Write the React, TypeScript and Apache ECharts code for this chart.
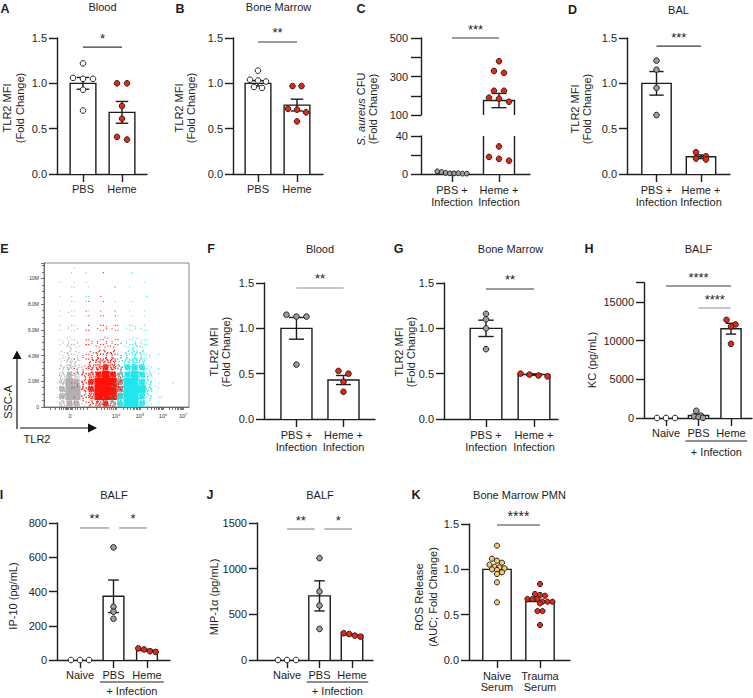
import React, { useEffect, useRef } from 'react';
import * as echarts from 'echarts';

const FONT = '"Liberation Sans", Arial, Helvetica, sans-serif';
const INK = '#1d1d1d';
const SIG_DARK = '#3a3a3a';
const SIG_GREY = '#8e8e8e';
const WHITE = '#ffffff';
const GREY = '#9e9e9e';
const RED = '#f0240e';
const YELLOW = '#f6cb72';

// ================= DATA =================
// A  Blood
const aCats = ['PBS', 'Heme'];
const aMean = [1.0, 0.68];
const aSem = [0.065, 0.12];
const aPBS = [1.22, 1.06, 1.05, 1.05, 0.93, 0.7];
const aHeme = [1.0, 1.0, 0.75, 0.61, 0.41, 0.38];

// B  Bone Marrow
const bCats = ['PBS', 'Heme'];
const bMean = [1.0, 0.76];
const bSem = [0.03, 0.065];
const bPBS = [1.14, 1.04, 1.03, 1.02, 0.96, 0.95];
const bHeme = [0.97, 0.97, 0.72, 0.71, 0.68, 0.58];

// C  S. aureus CFU (broken axis)
const cCats = ['PBS +\nInfection', 'Heme +\nInfection'];
const cMean = [1.1, 175];
const cSem = [0.35, 37];
const cPBS = [0.4, 2.8, 2.1, 1.1, 0.7, 0.4, 0.7, 0.7];
const cHeme = [379, 329, 319, 226, 226, 190, 185, 169, 29, 18, 16, 14];
const cUpperLabels = [100, 300, 500];
const cLowerLabels = [0, 40];

// D  BAL
const dCats = ['PBS +\nInfection', 'Heme +\nInfection'];
const dMean = [1.0, 0.19];
const dSem = [0.13, 0.02];
const dPBS = [1.25, 1.15, 0.95, 0.65];
const dHeme = [0.24, 0.195, 0.17, 0.16];

// E  flow cytometry density (rows top→bottom, 20 TLR2 bins x 20 SSC bins, level 0-9)
const eBinX = 5;
const eBinY = 0.56;
const eGrey = [
  '00001000000000000000',
  '00010100000000000000',
  '00101000000000000000',
  '00011010000000000000',
  '00110100000000000000',
  '00011100000000000000',
  '00121010000000000000',
  '00111100000000000000',
  '00121010000000000000',
  '00122110000000000000',
  '00232100000000000000',
  '00243100000000000000',
  '00343100000000000000',
  '00354100000000000000',
  '00465200000000000000',
  '00576200000000000000',
  '01698300000000000000',
  '01799410000000000000',
  '01799410000000000000',
  '01687300000000000000',
];
const eRed = [
  '00000000000000000000',
  '00000000100000000000',
  '00000000000000000000',
  '00000000010000000000',
  '00000001000000000000',
  '00000010100000000000',
  '00000101010000000000',
  '00000011110000000000',
  '00000011211000000000',
  '00000112221000000000',
  '00000122321000000000',
  '00000123332000000000',
  '00000234442000000000',
  '00001245553000000000',
  '00001356764000000000',
  '00002468986100000000',
  '00012479997100000000',
  '00012479998200000000',
  '00001369997200000000',
  '00001246764200000000',
];
const eCyan = [
  '00000000000000000000',
  '00000000000010000000',
  '00000100000001000000',
  '00000000000100000000',
  '00000010000000100000',
  '00000000010010000000',
  '00000000000101000000',
  '00000000001011000000',
  '00000000000121000000',
  '00000000000222100000',
  '00000000001232100000',
  '00000000001343100000',
  '00000000002454210000',
  '00000000003565200000',
  '00000000004787310000',
  '00000000005898410000',
  '00000000016998410100',
  '00000000026999520000',
  '00000000137998411000',
  '00000001247997310000',
];
const eXLabelPos = [17.9, 49.7, 66.2, 82.1, 95.9];
const eXLabels = ['0', '10⁴', '10⁵', '10⁶', '10⁷'];
const eXLinearTicks = [4.1, 7.6, 10.3, 12.2, 13.3, 14.5, 15.6, 16.3, 17.0, 17.9, 18.6, 19.8, 21.4, 23.2, 25.2, 27.3];
const eXDecades = [29.9, 49.7, 66.2, 82.1, 95.9];
const eYLabels = [0, 2, 4, 6, 8, 10];

// F  Blood (infection)
const fCats = ['PBS +\nInfection', 'Heme +\nInfection'];
const fMean = [1.0, 0.43];
const fSem = [0.12, 0.05];
const fPBS = [1.15, 1.13, 1.13, 0.6];
const fHeme = [0.53, 0.5, 0.41, 0.3];

// G  Bone Marrow (infection)
const gCats = ['PBS +\nInfection', 'Heme +\nInfection'];
const gMean = [1.0, 0.49];
const gSem = [0.09, 0.007];
const gPBS = [1.16, 1.1, 1.0, 0.77];
const gHeme = [0.5, 0.49, 0.48, 0.47];

// H  BALF KC
const hCats = ['Naive', 'PBS', 'Heme'];
const hMean = [0, 320, 11550];
const hSem = [0, 160, 700];
const hNaive = [0, 0, 0];
const hPBS = [930, 320, 210, 130, 20];
const hHeme = [12700, 12100, 11850, 9600];
const hLabels = [0, 5000, 10000, 15000];

// I  BALF IP-10
const iCats = ['Naive', 'PBS', 'Heme'];
const iMean = [0, 372, 57];
const iSem = [0, 95, 5];
const iNaive = [0, 0, 0];
const iPBS = [658, 311, 282, 241];
const iHeme = [68, 62, 51, 47];

// J  BALF MIP-1a
const jCats = ['Naive', 'PBS', 'Heme'];
const jMean = [0, 702, 275];
const jSem = [0, 165, 9];
const jNaive = [0, 0, 0];
const jPBS = [1116, 750, 596, 340];
const jHeme = [293, 285, 267, 256];

// K  Bone Marrow PMN
const kCats = ['Naive\nSerum', 'Trauma\nSerum'];
const kMean = [1.0, 0.645];
const kSem = [0, 0];
const kNaive = [1.261, 1.117, 1.095, 1.073, 1.051, 1.029, 1.022, 1.011, 1.0, 0.993, 0.967, 0.949, 0.857, 0.636];
const kTrauma = [0.838, 0.728, 0.717, 0.709, 0.673, 0.673, 0.673, 0.643, 0.643, 0.643, 0.625, 0.54, 0.54, 0.386];

// ================= HELPERS =================
function dodge(values: number[], ppu: number, spacing: number, thresh: number): number[] {
  const order = values.map((_, i) => i).sort((a, b) => values[b] - values[a]);
  const off = values.map(() => 0);
  let row: number[] = [];
  const flush = () => {
    row.forEach((k, j) => (off[k] = (j - (row.length - 1) / 2) * spacing));
    row = [];
  };
  for (const k of order) {
    if (row.length && (values[row[0]] - values[k]) * ppu > thresh) flush();
    row.push(k);
  }
  flush();
  return off;
}

const fmt1 = (v: number) => v.toFixed(1);
const fmt0 = (v: number) => String(Math.round(v));

// fixed speckle pattern used to texture density cells (order = fill order)
const SPECKLE = [
  [0.12, 0.31], [0.63, 0.08], [0.38, 0.72], [0.86, 0.55], [0.22, 0.93], [0.71, 0.39],
  [0.05, 0.62], [0.49, 0.18], [0.93, 0.87], [0.31, 0.47], [0.57, 0.95], [0.8, 0.21],
  [0.15, 0.05], [0.44, 0.36], [0.67, 0.66], [0.96, 0.12], [0.27, 0.16], [0.54, 0.52],
  [0.08, 0.84], [0.76, 0.8], [0.35, 0.02], [0.9, 0.34], [0.6, 0.27], [0.19, 0.6],
];
const DOTS = [0, 1, 2, 4, 6, 9, 12, 15, 19, 24];

function buildOption() {
  const grid: any[] = [];
  const xAxis: any[] = [];
  const yAxis: any[] = [];
  const series: any[] = [];
  const axLine = { color: INK, width: 1.4 };

  function addPanel(p: any) {
    const gi = grid.length;
    const height = p.bottom - p.top;
    grid.push({ left: p.left, top: p.top, width: p.right - p.left, height, containLabel: false, outerBoundsMode: 'none' });
    const idx = p.cats.map((_: any, i: number) => i);
    xAxis.push({
      gridIndex: gi, type: 'value', min: p.xMin, max: p.xMax, show: p.showX !== false,
      axisLine: { show: true, onZero: false, lineStyle: axLine },
      axisTick: { show: true, customValues: idx, length: 8, lineStyle: axLine },
      axisLabel: {
        show: true, customValues: idx, formatter: (v: number) => p.cats[Math.round(v)] ?? '',
        margin: p.xMargin ?? 9, fontSize: 11, lineHeight: p.lh ?? 12, color: INK, fontFamily: FONT,
      },
      splitLine: { show: false },
    });
    yAxis.push({
      gridIndex: gi, type: 'value', min: p.yMin, max: p.yMax, interval: p.yInterval,
      axisLine: { show: true, onZero: false, lineStyle: axLine },
      axisTick: { show: true, length: p.tickLen ?? 8, lineStyle: axLine },
      axisLabel: { customValues: p.yLabels, formatter: p.fmt, margin: p.yMargin ?? 10, fontSize: 11, color: INK, fontFamily: FONT },
      splitLine: { show: false },
    });
    const ppu = height / (p.yMax - p.yMin);
    const hw = p.hw ?? 0.33;
    const capHw = 0.16;
    const base = { type: 'custom', xAxisIndex: gi, yAxisIndex: gi, silent: true, animation: false };

    series.push({
      ...base, z: 2,
      data: p.means.map((m: number, i: number) => [i, m]),
      renderItem: (params: any, api: any) => {
        const cs = params.coordSys;
        const x = api.value(0), v = api.value(1);
        const yBot = cs.y + cs.height;
        let yTop = api.coord([x, v])[1];
        if (!(yTop < yBot - 0.5)) return null;
        const clamped = yTop < cs.y;
        if (clamped) yTop = cs.y;
        const xl = api.coord([x - hw, v])[0];
        const xr = api.coord([x + hw, v])[0];
        const st = { stroke: INK, lineWidth: 1.4, fill: 'none' };
        const ch: any[] = [{ type: 'rect', shape: { x: xl, y: yTop, width: xr - xl, height: yBot - yTop }, style: { fill: WHITE } }];
        if (clamped) {
          ch.push({ type: 'line', shape: { x1: xl, y1: yTop, x2: xl, y2: yBot }, style: st });
          ch.push({ type: 'line', shape: { x1: xr, y1: yTop, x2: xr, y2: yBot }, style: st });
        } else {
          ch.push({ type: 'polyline', shape: { points: [[xl, yBot], [xl, yTop], [xr, yTop], [xr, yBot]] }, style: st });
        }
        return { type: 'group', children: ch };
      },
    });

    series.push({
      ...base, z: 3,
      data: p.means.map((m: number, i: number) => [i, m, p.sems[i]]),
      renderItem: (params: any, api: any) => {
        const cs = params.coordSys;
        const x = api.value(0), m = api.value(1), s = api.value(2);
        if (!s) return null;
        const a = api.coord([x, m + s]);
        const b = api.coord([x, m - s]);
        if (a[1] < cs.y - 1 || b[1] > cs.y + cs.height + 1) return null;
        const l = api.coord([x - capHw, m])[0];
        const r = api.coord([x + capHw, m])[0];
        const st = { stroke: INK, lineWidth: 1.4 };
        return {
          type: 'group',
          children: [
            { type: 'line', shape: { x1: a[0], y1: a[1], x2: b[0], y2: b[1] }, style: st },
            { type: 'line', shape: { x1: l, y1: a[1], x2: r, y2: a[1] }, style: st },
            { type: 'line', shape: { x1: l, y1: b[1], x2: r, y2: b[1] }, style: st },
          ],
        };
      },
    });

    p.groups.forEach((g: any) => {
      const vals = g.values.filter((v: number) => v >= p.yMin && v <= p.yMax);
      const off = dodge(vals, ppu, g.spacing, g.thresh ?? 5);
      const r = (g.size ?? 5.6) / 2;
      series.push({
        ...base, z: 4,
        data: vals.map((v: number, k: number) => [g.cat, v, off[k]]),
        renderItem: (params: any, api: any) => {
          const c = api.coord([api.value(0), api.value(1)]);
          return { type: 'circle', shape: { cx: c[0] + api.value(2), cy: c[1], r }, style: { fill: g.fill, stroke: '#222', lineWidth: 1 } };
        },
      });
    });

    if (p.sigs) {
      const sigs = p.sigs;
      series.push({
        ...base, z: 5,
        data: sigs.map((s: any) => [s.x1, s.x2, s.y]),
        renderItem: (params: any, api: any) => {
          const s = sigs[params.dataIndex];
          const a = api.coord([api.value(0), api.value(2)]);
          const b = api.coord([api.value(1), api.value(2)]);
          return {
            type: 'group',
            children: [
              { type: 'line', shape: { x1: a[0], y1: a[1], x2: b[0], y2: b[1] }, style: { stroke: s.color ?? SIG_DARK, lineWidth: 1.2 } },
              {
                type: 'text', x: (a[0] + b[0]) / 2, y: a[1] - 9,
                style: { text: s.text, fill: INK, fontSize: s.size ?? 13, fontFamily: FONT, align: 'center', verticalAlign: 'middle', textAlign: 'center', textVerticalAlign: 'middle' },
              },
            ],
          };
        },
      });
    }

    if (p.bracket) {
      const yMin = p.yMin;
      const lineOff = p.bracketLine ?? 23;
      const textOff = p.bracketText ?? 34;
      series.push({
        ...base, z: 5,
        data: [[1, 2]],
        renderItem: (params: any, api: any) => {
          const cs = params.coordSys;
          const y0 = cs.y + cs.height;
          const a = api.coord([api.value(0) - 0.4, yMin])[0];
          const b = api.coord([api.value(1) + 0.5, yMin])[0];
          return {
            type: 'group',
            children: [
              { type: 'line', shape: { x1: a, y1: y0 + lineOff, x2: b, y2: y0 + lineOff }, style: { stroke: INK, lineWidth: 1 } },
              {
                type: 'text', x: (a + b) / 2, y: y0 + textOff,
                style: { text: '+ Infection', fill: INK, fontSize: 11, fontFamily: FONT, align: 'center', verticalAlign: 'middle', textAlign: 'center', textVerticalAlign: 'middle' },
              },
            ],
          };
        },
      });
    }
    return gi;
  }

  const two = (pbsFill: string, pbs: number[], heme: number[], sp1: number, sp2: number, heFill = RED, size = 5.6) => [
    { cat: 0, values: pbs, fill: pbsFill, spacing: sp1, size },
    { cat: 1, values: heme, fill: heFill, spacing: sp2, size },
  ];

  // A
  addPanel({
    left: 57, right: 147, top: 38, bottom: 174, xMin: -0.667, xMax: 1.641,
    yMin: 0, yMax: 1.5, yInterval: 0.5, fmt: fmt1, cats: aCats, means: aMean, sems: aSem,
    groups: two(WHITE, aPBS, aHeme, 10, 10), sigs: [{ x1: 0, x2: 1, y: 1.4, text: '*' }],
  });
  // B
  addPanel({
    left: 233, right: 323, top: 38, bottom: 174, xMin: -0.641, xMax: 1.667,
    yMin: 0, yMax: 1.5, yInterval: 0.5, fmt: fmt1, cats: bCats, means: bMean, sems: bSem,
    groups: two(WHITE, bPBS, bHeme, 8, 9), sigs: [{ x1: 0, x2: 1, y: 1.456, text: '**' }],
  });
  // C upper
  addPanel({
    left: 421, right: 530, top: 38, bottom: 115, xMin: -0.66, xMax: 1.66, showX: false,
    yMin: 100, yMax: 500, yInterval: 100, yLabels: cUpperLabels, fmt: fmt0, tickLen: 10, yMargin: 13,
    cats: cCats, means: cMean, sems: cSem,
    groups: two(GREY, cPBS, cHeme, 4, 10), sigs: [{ x1: 0, x2: 1, y: 500, text: '***' }],
  });
  // C lower
  addPanel({
    left: 421, right: 530, top: 136, bottom: 174, xMin: -0.66, xMax: 1.66,
    yMin: 0, yMax: 40, yInterval: 20, yLabels: cLowerLabels, fmt: fmt0, tickLen: 10, yMargin: 13,
    cats: cCats, means: cMean, sems: cSem, xMargin: 10,
    groups: [
      { cat: 0, values: cPBS, fill: GREY, spacing: 4.2, size: 4.8 },
      { cat: 1, values: cHeme, fill: RED, spacing: 10 },
    ],
  });
  // D
  addPanel({
    left: 627, right: 730, top: 38, bottom: 174, xMin: -0.663, xMax: 1.652,
    yMin: 0, yMax: 1.5, yInterval: 0.5, fmt: fmt1, cats: dCats, means: dMean, sems: dSem, xMargin: 10,
    groups: two(GREY, dPBS, dHeme, 10, 10), sigs: [{ x1: 0, x2: 1, y: 1.41, text: '***' }],
  });
  // F
  addPanel({
    left: 264, right: 375, top: 283, bottom: 419, xMin: -0.69, xMax: 1.67,
    yMin: 0, yMax: 1.5, yInterval: 0.5, fmt: fmt1, cats: fCats, means: fMean, sems: fSem, xMargin: 10,
    groups: two(GREY, fPBS, fHeme, 10, 10), sigs: [{ x1: 0, x2: 1, y: 1.445, text: '**', color: SIG_GREY }],
  });
  // G
  addPanel({
    left: 444, right: 558, top: 283, bottom: 419, xMin: -0.875, xMax: 1.5,
    yMin: 0, yMax: 1.5, yInterval: 0.5, fmt: fmt1, cats: gCats, means: gMean, sems: gSem, xMargin: 10,
    groups: two(GREY, gPBS, gHeme, 9, 9), sigs: [{ x1: 0, x2: 1, y: 1.434, text: '**' }],
  });
  // H
  addPanel({
    left: 644, right: 752, top: 282.7, bottom: 418, xMin: -0.677, xMax: 2.646, hw: 0.31,
    yMin: 0, yMax: 17500, yInterval: 5000, yLabels: hLabels, fmt: fmt0, cats: hCats, means: hMean, sems: hSem,
    groups: [
      { cat: 0, values: hNaive, fill: WHITE, spacing: 9 },
      { cat: 1, values: hPBS, fill: GREY, spacing: 4.5 },
      { cat: 2, values: hHeme, fill: RED, spacing: 9 },
    ],
    sigs: [
      { x1: 0, x2: 2, y: 17070, text: '****' },
      { x1: 1, x2: 2, y: 14225, text: '****', color: SIG_GREY },
    ],
    bracket: true,
  });
  // I
  addPanel({
    left: 57, right: 170, top: 523, bottom: 660, xMin: -0.687, xMax: 2.687, hw: 0.31,
    yMin: 0, yMax: 800, yInterval: 200, fmt: fmt0, cats: iCats, means: iMean, sems: iSem,
    groups: [
      { cat: 0, values: iNaive, fill: WHITE, spacing: 9 },
      { cat: 1, values: iPBS, fill: GREY, spacing: 9, thresh: 4.5 },
      { cat: 2, values: iHeme, fill: RED, spacing: 5.8 },
    ],
    sigs: [
      { x1: 0, x2: 0.87, y: 771, text: '**', color: SIG_GREY },
      { x1: 1.17, x2: 2, y: 771, text: '*', color: SIG_GREY },
    ],
    bracket: true, bracketLine: 22, bracketText: 31,
  });
  // J
  addPanel({
    left: 257, right: 373, top: 523, bottom: 660, xMin: -0.923, xMax: 2.646,
    yMin: 0, yMax: 1500, yInterval: 500, fmt: fmt0, cats: jCats, means: jMean, sems: jSem,
    groups: [
      { cat: 0, values: jNaive, fill: WHITE, spacing: 9 },
      { cat: 1, values: jPBS, fill: GREY, spacing: 9 },
      { cat: 2, values: jHeme, fill: RED, spacing: 5.6 },
    ],
    sigs: [
      { x1: 0, x2: 0.85, y: 1434, text: '**', color: SIG_GREY },
      { x1: 1.15, x2: 2, y: 1434, text: '*', color: SIG_GREY },
    ],
    bracket: true, bracketLine: 22, bracketText: 31,
  });
  // K
  addPanel({
    left: 469, right: 570, top: 524, bottom: 660, xMin: -0.651, xMax: 1.698, lh: 11.5, xMargin: 10,
    yMin: 0, yMax: 1.5, yInterval: 0.5, fmt: fmt1, cats: kCats, means: kMean, sems: kSem,
    groups: [
      { cat: 0, values: kNaive, fill: YELLOW, spacing: 5, thresh: 4, size: 5.2 },
      { cat: 1, values: kTrauma, fill: RED, spacing: 5, thresh: 4, size: 5.2 },
    ],
    sigs: [{ x1: 0, x2: 1, y: 1.489, text: '****', size: 14 }],
  });

  // E flow plot
  const ge = grid.length;
  grid.push({ left: 44, top: 263, width: 145, height: 144, show: true, borderColor: '#6a6a6a', borderWidth: 0.8, backgroundColor: '#fff', containLabel: false, outerBoundsMode: 'none' });
  const eTicks: number[] = [...eXLinearTicks];
  for (let d = 0; d < eXDecades.length - 1; d++) {
    const a = eXDecades[d], b = eXDecades[d + 1];
    for (let k = 1; k <= 9; k++) eTicks.push(a + (b - a) * Math.log10(k));
  }
  eTicks.push(eXDecades[eXDecades.length - 1]);
  const eLine = { color: '#555', width: 0.8 };
  xAxis.push({
    gridIndex: ge, type: 'value', min: 0, max: 100,
    axisLine: { show: true, onZero: false, lineStyle: eLine },
    axisTick: { show: true, customValues: eTicks, length: 3, lineStyle: eLine },
    axisLabel: { customValues: eXLabelPos, formatter: (v: number) => eXLabels[eXLabelPos.findIndex((q) => Math.abs(q - v) < 0.01)] ?? '', fontSize: 5.5, color: '#333', margin: 6, fontFamily: FONT },
    splitLine: { show: false },
  });
  yAxis.push({
    gridIndex: ge, type: 'value', min: 0, max: 11.2, interval: 2,
    axisLine: { show: true, onZero: false, lineStyle: eLine },
    axisTick: { show: true, length: 3, lineStyle: eLine },
    minorTick: { show: true, splitNumber: 4, length: 2, lineStyle: eLine },
    axisLabel: { customValues: eYLabels, formatter: (v: number) => (v === 0 ? '0' : v >= 10 ? v + 'M' : v.toFixed(1) + 'M'), fontSize: 5, color: '#333', margin: 5, fontFamily: FONT },
    splitLine: { show: false },
  });
  const density = (rows: string[], color: string, z: number) => {
    const data: number[][] = [];
    rows.forEach((s, ri) => {
      const row = rows.length - 1 - ri;
      for (let c = 0; c < s.length; c++) {
        const lv = +s[c];
        if (lv > 0) data.push([c, row, lv]);
      }
    });
    return {
      type: 'custom', xAxisIndex: ge, yAxisIndex: ge, silent: true, z, data,
      renderItem: (params: any, api: any) => {
        const c = api.value(0), r = api.value(1), lv = api.value(2);
        const p0 = api.coord([c * eBinX, r * eBinY]);
        const p1 = api.coord([(c + 1) * eBinX, (r + 1) * eBinY]);
        const x0 = p0[0], y0 = p1[1], w = p1[0] - p0[0], h = p0[1] - p1[1];
        if (lv >= 9) return { type: 'rect', shape: { x: x0 - 0.3, y: y0 - 0.3, width: w + 0.6, height: h + 0.6 }, style: { fill: color } };
        const n = DOTS[lv];
        const mx = c % 2 === 1, my = r % 2 === 1;
        const sz = lv >= 7 ? 1.7 : lv >= 4 ? 1.3 : 1.05;
        const ch: any[] = [];
        for (let k = 0; k < n; k++) {
          let [u, v] = SPECKLE[k];
          if (mx) u = 1 - u;
          if (my) v = 1 - v;
          ch.push({ type: 'rect', shape: { x: x0 + u * (w - sz), y: y0 + v * (h - sz), width: sz, height: sz }, style: { fill: color } });
        }
        return { type: 'group', children: ch };
      },
    };
  };
  series.push(density(eGrey, '#b0b0b0', 2));
  series.push(density(eRed, '#ff1208', 3));
  series.push(density(eCyan, '#1ee8ee', 4));

  // ---- graphic texts ----
  const txt = (text: string, x: number, y: number, size: number, extra: any = {}) => ({
    type: 'text', x, y, silent: true, rotation: extra.rotation ?? 0,
    style: {
      text, fill: INK, fontSize: size, fontFamily: FONT, fontWeight: extra.bold ? 'bold' : 'normal',
      lineHeight: extra.lh ?? size + 1.5, align: 'center', verticalAlign: 'middle', textAlign: 'center', textVerticalAlign: 'middle',
    },
  });
  const R = Math.PI / 2;
  const elements: any[] = [
    txt('A', 5, 8.7, 12.5, { bold: true }),
    txt('B', 180, 8.7, 12.5, { bold: true }),
    txt('C', 361, 8.7, 12.5, { bold: true }),
    txt('D', 572.5, 9.7, 12.5, { bold: true }),
    txt('E', 4.5, 249, 12.5, { bold: true }),
    txt('F', 211, 249, 12.5, { bold: true }),
    txt('G', 398.5, 249, 12.5, { bold: true }),
    txt('H', 589, 249, 12.5, { bold: true }),
    txt('I', 1.5, 494.5, 12.5, { bold: true }),
    txt('J', 210, 494.5, 12.5, { bold: true }),
    txt('K', 416, 494.5, 12.5, { bold: true }),
    txt('Blood', 102.5, 7.2, 11),
    txt('Bone Marrow', 278.5, 7.2, 11),
    txt('BAL', 678.5, 9.5, 11),
    txt('Blood', 320, 249, 11),
    txt('Bone Marrow', 510.5, 249, 11),
    txt('BALF', 698.5, 249, 11),
    txt('BALF', 114, 495, 11),
    txt('BALF', 320, 495, 11),
    txt('Bone Marrow PMN', 519.5, 495, 11),
    txt('TLR2 MFI\n(Fold Change)', 13.5, 108, 11, { rotation: R, lh: 12.5 }),
    txt('TLR2 MFI\n(Fold Change)', 185, 108, 11, { rotation: R, lh: 12.5 }),
    {
      type: 'text', x: 367, y: 109, rotation: R, silent: true,
      style: {
        text: '{i|S. aureus}{n| CFU}\n{n|(Fold Change)}', fill: INK, fontSize: 11, fontFamily: FONT,
        align: 'center', verticalAlign: 'middle', textAlign: 'center', textVerticalAlign: 'middle',
        rich: {
          i: { fontStyle: 'italic', fontSize: 11, fontFamily: FONT, fill: INK, lineHeight: 12.5 },
          n: { fontSize: 11, fontFamily: FONT, fill: INK, lineHeight: 12.5 },
        },
      },
    },
    txt('TLR2 MFI\n(Fold Change)', 581, 109, 11, { rotation: R, lh: 12.5 }),
    txt('TLR2 MFI\n(Fold Change)', 220, 352, 11, { rotation: R, lh: 12.5 }),
    txt('TLR2 MFI\n(Fold Change)', 405, 352, 11, { rotation: R, lh: 12.5 }),
    txt('KC (pg/mL)', 592, 360, 11, { rotation: R }),
    txt('IP-10 (pg/mL)', 13, 596, 11, { rotation: R }),
    txt('MIP-1α (pg/mL)', 214, 597, 11, { rotation: R }),
    txt('ROS Release\n(AUC; Fold Change)', 426, 597, 11, { rotation: R, lh: 14 }),
    txt('SSC-A', 7.5, 402, 11, { rotation: R }),
    txt('TLR2', 37, 439, 11),
    { type: 'line', silent: true, shape: { x1: 17, y1: 429, x2: 17, y2: 358 }, style: { stroke: '#111', lineWidth: 1.2 } },
    { type: 'polygon', silent: true, shape: { points: [[12.5, 359], [21.5, 359], [17, 350.5]] }, style: { fill: '#111' } },
    { type: 'line', silent: true, shape: { x1: 20, y1: 428, x2: 89, y2: 428 }, style: { stroke: '#111', lineWidth: 1.2 } },
    { type: 'polygon', silent: true, shape: { points: [[88, 423.5], [88, 432.5], [97, 428]] }, style: { fill: '#111' } },
  ];

  return {
    animation: false,
    backgroundColor: '#ffffff',
    textStyle: { fontFamily: FONT },
    grid, xAxis, yAxis, series,
    graphic: { elements },
  };
}

export default function App() {
  const ref = useRef<HTMLDivElement>(null);
  useEffect(() => {
    if (!ref.current) return;
    const chart = echarts.init(ref.current, null, { renderer: 'svg', width: 753, height: 698 });
    chart.setOption(buildOption() as any);
    return () => chart.dispose();
  }, []);
  return <div ref={ref} style={{ position: 'absolute', left: 0, top: 0, width: 753, height: 698, background: '#fff' }} />;
}
